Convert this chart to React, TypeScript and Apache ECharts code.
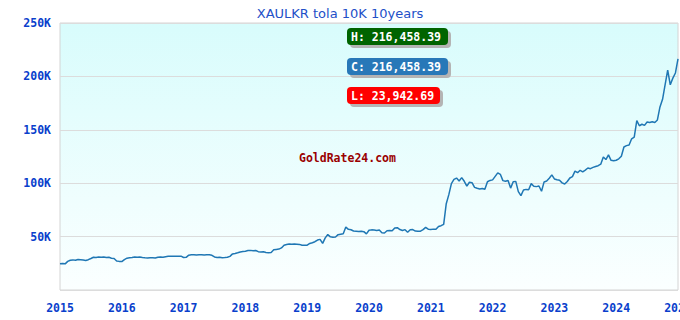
import React, { useEffect, useRef } from "react";
import * as echarts from "echarts";

const title = "XAULKR tola 10K 10years";
const startYear = 2015;
const endYear = 2025;
const pointsPerYear = 24;
const yTicks = [0, 50000, 100000, 150000, 200000, 250000];

// Prices in thousands of LKR, two readings per month
const p2015 = [24.6, 24.9, 24.5, 26.8, 27.9, 28.2, 27.8, 28.6, 28.3, 28.0, 27.6, 28.4, 29.5, 30.7, 30.5, 30.9, 30.6, 30.8, 30.4, 30.6, 29.8, 29.5, 27.2, 26.8];
const p2016 = [26.6, 28.5, 29.8, 30.2, 30.5, 30.9, 30.6, 30.8, 30.4, 30.1, 30.0, 30.3, 30.1, 29.9, 30.6, 30.8, 30.7, 31.2, 31.6, 31.5, 31.7, 31.6, 31.5, 31.7];
const p2017 = [30.4, 30.6, 32.6, 32.9, 33.1, 32.8, 32.9, 33.0, 32.7, 32.9, 33.0, 32.5, 30.9, 30.5, 30.6, 30.3, 30.4, 30.7, 31.5, 33.8, 34.2, 34.8, 35.6, 36.0];
const p2018 = [36.3, 36.9, 37.1, 36.8, 37.0, 35.9, 35.6, 35.8, 35.2, 34.9, 35.1, 37.6, 38.0, 38.3, 39.4, 41.9, 42.6, 43.1, 42.8, 43.0, 42.9, 42.7, 41.9, 41.8];
const p2019 = [42.0, 43.6, 44.3, 45.2, 46.8, 47.4, 43.6, 48.8, 51.9, 49.8, 49.3, 49.6, 51.8, 52.3, 52.6, 58.9, 56.8, 56.4, 55.2, 55.0, 54.8, 55.1, 54.6, 52.5];
const p2020 = [55.9, 56.3, 56.1, 55.8, 56.2, 53.6, 53.4, 55.5, 55.7, 55.4, 58.1, 58.3, 56.6, 55.7, 56.5, 54.1, 56.4, 56.6, 55.2, 54.9, 55.1, 56.5, 58.6, 56.9];
const p2021 = [56.7, 57.0, 56.8, 59.4, 60.2, 61.5, 80.8, 89.3, 99.6, 103.5, 104.8, 102.1, 105.2, 101.8, 97.3, 100.9, 100.5, 96.1, 95.2, 94.6, 95.0, 94.3, 101.4, 102.6];
const p2022 = [103.1, 106.4, 109.7, 108.3, 102.4, 101.8, 102.6, 95.4, 101.3, 101.7, 92.1, 88.4, 93.6, 94.2, 93.8, 99.6, 97.2, 96.8, 97.4, 92.5, 101.2, 102.0, 104.6, 107.8];
const p2023 = [104.0, 103.2, 102.8, 100.3, 99.2, 101.6, 104.9, 106.2, 111.3, 109.8, 112.1, 110.6, 112.3, 114.2, 113.6, 114.8, 115.7, 116.4, 117.8, 124.6, 122.1, 126.5, 121.4, 121.0];
const p2024 = [121.5, 122.8, 125.3, 133.9, 135.2, 135.8, 141.6, 143.2, 158.6, 153.8, 155.2, 154.1, 157.3, 156.8, 157.6, 156.9, 159.2, 171.4, 178.6, 192.4, 205.8, 192.1, 198.4, 203.2];
const p2025 = [216.45839];

const badgeLabels = ["H: 216,458.39", "C: 216,458.39", "L: 23,942.69"];
const badgeColors = ["#006400", "#2878b8", "#ff0000"];
const watermark = "GoldRate24.com";

const pricesK = [
  ...p2015, ...p2016, ...p2017, ...p2018, ...p2019,
  ...p2020, ...p2021, ...p2022, ...p2023, ...p2024, ...p2025,
];

const MONO = "'DejaVu Sans Mono', 'Liberation Mono', monospace";

export default function App() {
  const ref = useRef<HTMLDivElement>(null);

  useEffect(() => {
    if (!ref.current) return;
    const chart = echarts.init(ref.current, null, { renderer: "svg" });
    const data = pricesK.map((v, i) => [startYear + i / pointsPerYear, v * 1000]);

    const badgeWidths = [101, 101, 93];
    const badgeTops = [28, 58, 87];
    const badges: any[] = [];
    badgeLabels.forEach((label, i) => {
      badges.push({
        type: "rect",
        shape: { x: 350, y: badgeTops[i] + 3, width: badgeWidths[i], height: 17, r: 4 },
        style: { fill: "#b4b4b4" },
        z: 10,
      });
      badges.push({
        type: "rect",
        shape: { x: 347, y: badgeTops[i], width: badgeWidths[i], height: 17, r: 4 },
        style: { fill: badgeColors[i] },
        z: 11,
      });
      badges.push({
        type: "text",
        x: 351,
        y: badgeTops[i] + 8.5,
        style: {
          text: label,
          fill: "#ffffff",
          font: `bold 11.5px ${MONO}`,
          verticalAlign: "middle",
        },
        z: 12,
      });
    });

    chart.setOption({
      animation: false,
      backgroundColor: "#ffffff",
      title: {
        text: title,
        left: "center",
        top: 2,
        textStyle: {
          color: "#2350c8",
          fontSize: 13,
          fontWeight: "normal",
          fontFamily: "'DejaVu Sans', Verdana, sans-serif",
        },
      },
      grid: {
        left: 60,
        right: 2,
        top: 23,
        bottom: 30,
        containLabel: false,
        outerBoundsMode: "none",
        show: true,
        borderColor: "#d4d4d4",
        borderWidth: 1,
        backgroundColor: {
          type: "linear",
          x: 0,
          y: 0,
          x2: 0,
          y2: 1,
          colorStops: [
            { offset: 0, color: "#d8fcfc" },
            { offset: 1, color: "#fbffff" },
          ],
        },
      },
      xAxis: {
        type: "value",
        min: startYear,
        max: endYear,
        interval: 1,
        axisLine: { show: false },
        axisTick: { show: false },
        splitLine: { show: false },
        axisLabel: {
          margin: 12,
          color: "#0a3fcc",
          fontFamily: MONO,
          fontWeight: "bold",
          fontSize: 11.5,
          formatter: (v: number) => String(Math.round(v)),
          showMaxLabel: true,
          hideOverlap: false,
        },
      },
      yAxis: {
        type: "value",
        min: yTicks[0],
        max: yTicks[yTicks.length - 1],
        interval: 50000,
        axisLine: { show: false },
        axisTick: { show: false },
        splitLine: { show: true, lineStyle: { color: "#dcdcdc", width: 1 } },
        axisLabel: {
          margin: 9,
          color: "#0a3fcc",
          fontFamily: MONO,
          fontWeight: "bold",
          fontSize: 11.5,
          formatter: (v: number) => (v === 0 ? "" : `${v / 1000}K`),
        },
      },
      series: [
        {
          type: "line",
          data,
          showSymbol: false,
          symbol: "none",
          lineStyle: { color: "#1f77b4", width: 1.5 },
          z: 5,
        },
      ],
      graphic: [
        ...badges,
        {
          type: "text",
          x: 299,
          y: 158,
          style: {
            text: watermark,
            fill: "#9a0000",
            font: `bold 11.5px ${MONO}`,
            verticalAlign: "middle",
          },
          z: 12,
        },
      ],
    });

    return () => chart.dispose();
  }, []);

  return <div ref={ref} style={{ width: 680, height: 320, position: "absolute", left: 0, top: 0 }} />;
}
